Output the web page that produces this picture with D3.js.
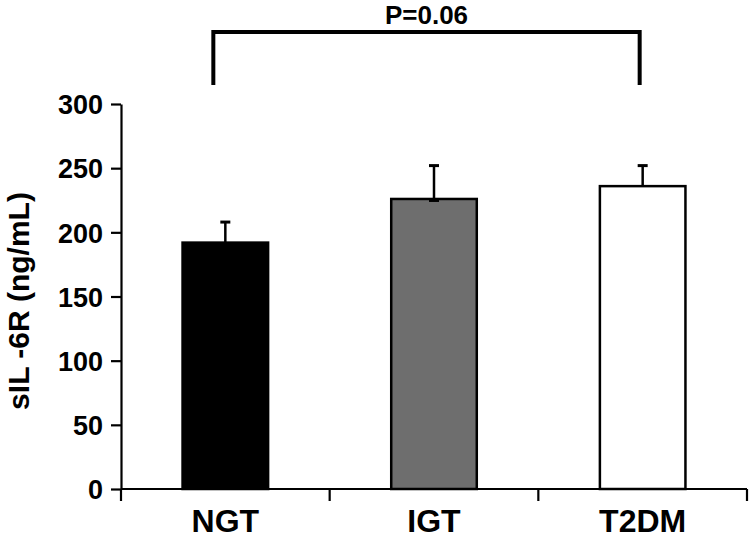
<!DOCTYPE html>
<html><head><meta charset="utf-8">
<script src="https://cdn.jsdelivr.net/npm/d3@7"></script>
<style>body{margin:0;background:#fff}svg{display:block}text{font-family:"Liberation Sans",Arial,sans-serif;font-weight:bold;fill:#000}</style>
</head><body><svg id="c" width="750" height="539"></svg>
<script>
const categories = ["NGT", "IGT", "T2DM"];
const means = [192, 226, 236];
const sems = [16, 26, 16];
const fills = ["#000000", "#6e6e6e", "#ffffff"];
const yTicks = [0, 50, 100, 150, 200, 250, 300];
const pLabel = "P=0.06";
const yTitle = "sIL -6R (ng/mL)";

const svg = d3.select("#c");
const x = d3.scaleBand().domain(categories).range([121, 747]).paddingInner(0.59).paddingOuter(0.295);
const y = d3.scaleLinear().domain([0, 300]).range([489, 104]);
const step = x.step();
const x0 = 121;

// y axis
const yAxis = d3.axisLeft(y).tickValues(yTicks).tickSize(10).tickPadding(8).tickSizeOuter(0);
const gy = svg.append("g").attr("transform", "translate(121,0)").call(yAxis);
gy.select(".domain").attr("stroke", "#000").attr("stroke-width", 2.2);
gy.selectAll(".tick line").attr("stroke", "#000").attr("stroke-width", 2.2);
gy.selectAll(".tick text").style("font-size", "27px").attr("dy", "0.36em");

// x axis line
svg.append("line").attr("x1", x0).attr("x2", 747).attr("y1", y(0)).attr("y2", y(0))
  .attr("stroke", "#000").attr("stroke-width", 2.2);
// boundary ticks
svg.selectAll(".xb").data(d3.range(categories.length + 1)).enter().append("line")
  .attr("x1", i => x0 + i * step).attr("x2", i => x0 + i * step)
  .attr("y1", y(0)).attr("y2", y(0) + 12)
  .attr("stroke", "#000").attr("stroke-width", 2.2);
// x labels
svg.selectAll(".xl").data(categories).enter().append("text")
  .attr("x", d => x(d) + x.bandwidth() / 2).attr("y", 532)
  .attr("text-anchor", "middle").style("font-size", "32px").text(d => d);

// error bars
const eb = svg.selectAll(".eb").data(categories).enter().append("g");
eb.append("line")
  .attr("x1", d => x(d) + x.bandwidth() / 2).attr("x2", d => x(d) + x.bandwidth() / 2)
  .attr("y1", (d, i) => y(means[i])).attr("y2", (d, i) => y(means[i] + sems[i]))
  .attr("stroke", "#000").attr("stroke-width", 2.5);
eb.append("line")
  .attr("x1", d => x(d) + x.bandwidth() / 2 - 5).attr("x2", d => x(d) + x.bandwidth() / 2 + 5)
  .attr("y1", (d, i) => y(means[i] + sems[i])).attr("y2", (d, i) => y(means[i] + sems[i]))
  .attr("stroke", "#000").attr("stroke-width", 3);

// bars
svg.selectAll(".bar").data(categories).enter().append("rect")
  .attr("x", d => x(d)).attr("width", x.bandwidth())
  .attr("y", (d, i) => y(means[i])).attr("height", (d, i) => y(0) - y(means[i]))
  .attr("fill", (d, i) => fills[i]).attr("stroke", "#000").attr("stroke-width", 2.5);

// lower whisker cap visible at IGT bar top
svg.append("line")
  .attr("x1", x(categories[1]) + x.bandwidth() / 2 - 5).attr("x2", x(categories[1]) + x.bandwidth() / 2 + 5)
  .attr("y1", y(means[1]) + 1.5).attr("y2", y(means[1]) + 1.5)
  .attr("stroke", "#000").attr("stroke-width", 3);

// y title
svg.append("text").attr("transform", "translate(29,301) rotate(-90)")
  .attr("text-anchor", "middle").style("font-size", "30px").text(yTitle);

// significance bracket
const bx1 = x(categories[0]) + x.bandwidth() / 2 - 12;
const bx2 = x(categories[2]) + x.bandwidth() / 2 - 3;
svg.append("path")
  .attr("d", `M${bx1},85V32H${bx2}V85`)
  .attr("fill", "none").attr("stroke", "#000").attr("stroke-width", 4);
svg.append("text").attr("x", (bx1 + bx2) / 2).attr("y", 24)
  .attr("text-anchor", "middle").style("font-size", "26px").text(pLabel);
</script></body></html>
